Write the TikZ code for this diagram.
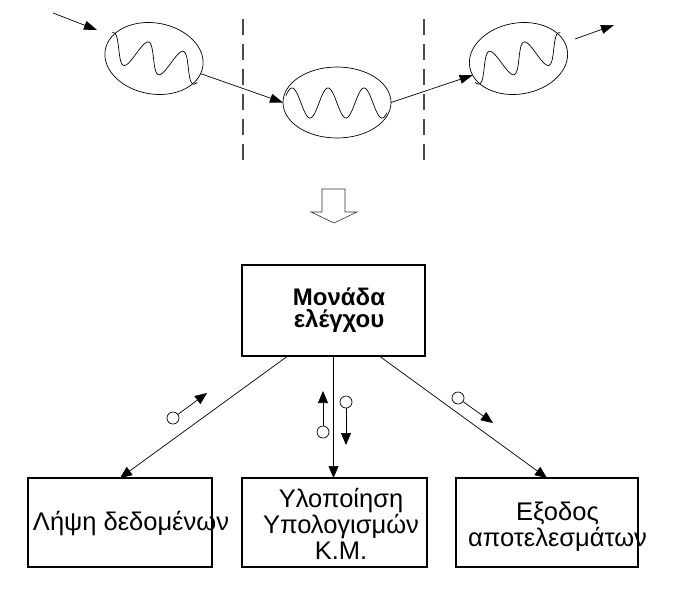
\documentclass[tikz,border=0pt]{standalone}
\usepackage{fontspec}
\setmainfont{Liberation Sans}
\usetikzlibrary{arrows.meta,shapes.geometric,calc}
\begin{document}
\begin{tikzpicture}[x=1pt,y=-1pt,
  box/.style={draw, line width=1.2pt, minimum width=184pt, minimum height=89pt, inner sep=0pt, outer sep=0pt},
  lbl/.style={align=center, font=\fontsize{25.5}{26}\selectfont, inner sep=0pt},
  cell/.style={draw, ellipse, line width=0.7pt, minimum width=99pt, minimum height=71pt, inner sep=0pt, outer sep=0pt},
  wave/.style={line width=0.7pt},
  sep/.style={line width=1.8pt, draw=black!70, dash pattern=on 16pt off 9pt},
  conn/.style={line width=0.7pt, -{Triangle[length=12pt,width=10pt]}},
  tarr/.style={line width=0.7pt, -{Triangle[length=13pt,width=9pt]}},
  sig/.style={draw, circle, minimum size=12pt, inner sep=0pt, line width=0.7pt},
]
\useasboundingbox (0,0) rectangle (693,590);

% cells
\node[cell, rotate=-10] (e1) at (154,58.5) {};
\node[cell, minimum width=108pt] (e2) at (337,102.5) {};
\node[cell, rotate=10] (e3) at (518.5,58.5) {};

% waves
\draw[wave, shift={(154,58.5)}, rotate=-15] plot[domain=-47:48, samples=150, smooth] (\x, {-14.5*cos(10*(\x+9.5))});
\draw[wave, shift={(337,103)}] plot[domain=-51:50, samples=150, smooth] (\x, {-15*cos(10*(\x+9))});
\draw[wave, shift={(518.5,58.5)}, rotate=15, xscale=-1] plot[domain=-47:48, samples=150, smooth] (\x, {-14.5*cos(10*(\x+9.5))});

% top arrows
\coordinate (in0) at (53,13);
\coordinate (in1) at (97,30);
\draw[tarr] (in0) -- (in1);
\draw[tarr] (e1.-8) -- (e2.west);
\draw[tarr] (e2.east) -- (e3.190);
\coordinate (out0) at (575,39);
\coordinate (out1) at (614,25);
\draw[tarr] (out0) -- (out1);

% dashed separators
\coordinate (d1a) at (243,19);
\coordinate (d1b) at (243,160);
\draw[sep] (d1a) -- (d1b);
\coordinate (d2a) at (424,19);
\coordinate (d2b) at (424,160);
\draw[sep] (d2a) -- (d2b);

% hollow arrow
\draw[line width=0.6pt, draw=black!80] (322,189) -- (345,189) -- (345,212) -- (357,212) -- (334,223) -- (311,212) -- (322,212) -- cycle;

% boxes
\node[box, minimum width=183pt, minimum height=91pt] (ctrl) at (333.5,310.5) {};
\node[align=center, inner sep=0pt, font=\bfseries\fontsize{24}{22}\selectfont] (ctrlt) at (339,310.5) {Μονάδα\\ελέγχου};

\node[box] (lh) at (120,522.5) {};
\node[box, minimum width=185pt] (ylo) at (334.5,522.5) {};
\node[box, minimum width=182pt] (ex) at (547,522.5) {};

\node[lbl] (lht) at (131,523.5) {Λήψη δεδομένων};
\node[lbl] (ylot) at (341,523.5) {Υλοποίηση\\Υπολογισμών\\Κ.Μ.};
\node[lbl] (ext) at (557.5,526.5) {Εξοδος\\αποτελεσμάτων};

% connectors
\draw[conn] ($(ctrl.south)!0.5!(ctrl.south west)$) -- (lh.north);
\draw[conn] (ctrl.south) -- (ctrl.south |- ylo.north);
\draw[conn] ($(ctrl.south)!0.5!(ctrl.south east)$) -- (ex.north);

% signal symbols
\node[sig] (c1) at (173,418) {};
\coordinate (a1) at (207,393);
\draw[conn] (c1) -- (a1);
\node[sig] (c2) at (323,432) {};
\coordinate (a2) at (323,391);
\draw[conn] (c2) -- (a2);
\node[sig] (c3) at (346,402) {};
\coordinate (a3) at (346,445);
\draw[conn] (c3) -- (a3);
\node[sig] (c4) at (458,398) {};
\coordinate (a4) at (493,423);
\draw[conn] (c4) -- (a4);
\end{tikzpicture}
\end{document}
